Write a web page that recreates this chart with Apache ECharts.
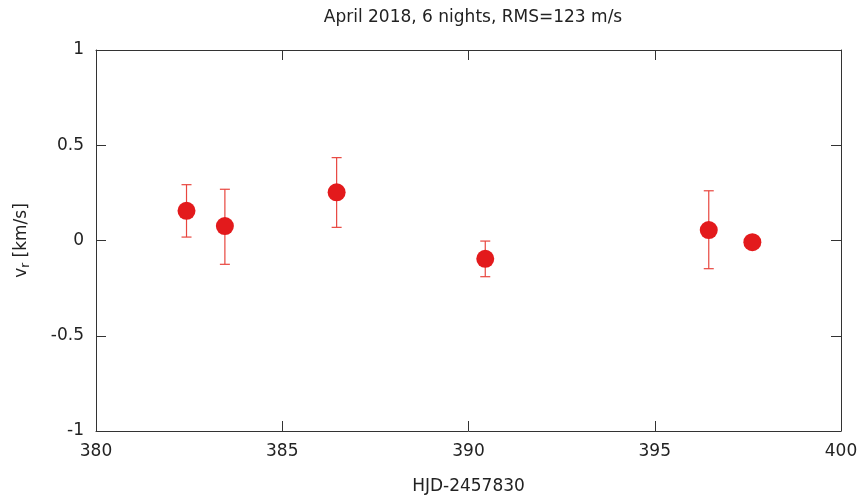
<!DOCTYPE html>
<html>
<head>
<meta charset="utf-8">
<script src="https://cdn.jsdelivr.net/npm/echarts@6/dist/echarts.min.js"></script>
<style>
  html, body { margin: 0; padding: 0; background: #fff; }
  #chart { width: 861px; height: 502px; }
</style>
</head>
<body>
<div id="chart"></div>
<script>
// HJD - 2457830
const hjd = [382.43, 383.46, 386.46, 390.45, 396.45, 397.62]
// radial velocity, km/s
const vr = [0.156, 0.076, 0.253, -0.096, 0.055, -0.009]
const vrLow = [0.018, -0.125, 0.069, -0.19, -0.148, -0.009]
const vrHigh = [0.293, 0.269, 0.435, -0.003, 0.261, -0.009]

const xTicks = [380, 385, 390, 395, 400]
const yTicks = [-1, -0.5, 0, 0.5, 1]

const font = 'DejaVu Sans'
const fs = 17
const axisColor = '#333'
const red = '#e31a1c'

const points = hjd.map((x, i) => [x, vr[i]])
const bars = hjd.map((x, i) => [x, vrLow[i], vrHigh[i]])

const chart = echarts.init(document.getElementById('chart'), null, { renderer: 'canvas' })

const baseX = {
  type: 'value',
  min: xTicks[0],
  max: xTicks[xTicks.length - 1],
  interval: 5,
  axisLine: { show: true, onZero: false, lineStyle: { color: axisColor, width: 1 } },
  axisTick: { show: true, inside: true, length: 10, lineStyle: { color: axisColor } },
  splitLine: { show: false }
}
const baseY = {
  type: 'value',
  min: yTicks[0],
  max: yTicks[yTicks.length - 1],
  interval: 0.5,
  axisLine: { show: true, onZero: false, lineStyle: { color: axisColor, width: 1 } },
  axisTick: { show: true, inside: true, length: 10, lineStyle: { color: axisColor } },
  splitLine: { show: false }
}

const option = {
  animation: false,
  backgroundColor: '#fff',
  textStyle: { fontFamily: font },
  title: {
    text: 'April 2018, 6 nights, RMS=123 m/s',
    left: 468,
    top: 4,
    textAlign: 'center',
    textStyle: { fontFamily: font, fontSize: fs, fontWeight: 'normal', color: '#222' }
  },
  grid: { left: 96, right: 20, top: 50, bottom: 71 },
  xAxis: [
    Object.assign({}, baseX, {
      position: 'bottom',
      name: 'HJD-2457830',
      nameLocation: 'middle',
      nameGap: 47,
      nameTextStyle: { fontFamily: font, fontSize: fs, color: '#222' },
      axisLabel: { margin: 12, fontFamily: font, fontSize: fs, color: '#222' }
    }),
    Object.assign({}, baseX, { position: 'top', axisLabel: { show: false } })
  ],
  yAxis: [
    Object.assign({}, baseY, {
      position: 'left',
      name: '{v|v}{s|r}{v| [km/s]}',
      nameLocation: 'middle',
      nameRotate: 90,
      nameGap: 64,
      nameTextStyle: {
        rich: {
          v: { fontFamily: font, fontSize: fs, color: '#222' },
          s: { fontFamily: font, fontSize: 12, color: '#222', verticalAlign: 'bottom', padding: [8, 0, 0, 0] }
        }
      },
      axisLabel: {
        margin: 12,
        fontFamily: font,
        fontSize: fs,
        color: '#222',
        formatter: v => String(v)
      }
    }),
    Object.assign({}, baseY, { position: 'right', axisLabel: { show: false } })
  ],
  series: [
    {
      type: 'custom',
      z: 1,
      data: bars,
      renderItem: (params, api) => {
        const x = api.value(0)
        const lo = api.coord([x, api.value(1)])
        const hi = api.coord([x, api.value(2)])
        const w = 5
        const style = { stroke: '#e8463f', lineWidth: 1.2 }
        return {
          type: 'group',
          children: [
            { type: 'line', shape: { x1: lo[0], y1: lo[1], x2: hi[0], y2: hi[1] }, style },
            { type: 'line', shape: { x1: hi[0] - w, y1: hi[1], x2: hi[0] + w, y2: hi[1] }, style },
            { type: 'line', shape: { x1: lo[0] - w, y1: lo[1], x2: lo[0] + w, y2: lo[1] }, style }
          ]
        }
      }
    },
    {
      type: 'scatter',
      z: 2,
      data: points,
      symbol: 'circle',
      symbolSize: 18,
      itemStyle: { color: red, opacity: 1 }
    }
  ]
}

chart.setOption(option)
</script>
</body>
</html>
